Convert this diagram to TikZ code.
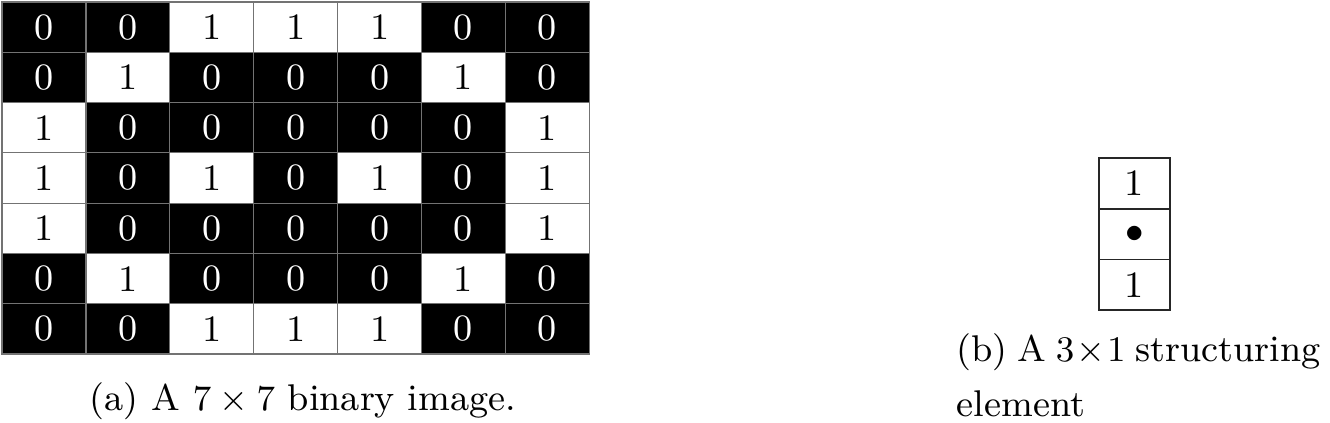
\documentclass[tikz,border=0pt]{standalone}
\usetikzlibrary{positioning}
\tikzset{
  px/.style={x=0.25pt,y=-0.25pt},
  bit/.style={minimum width=21pt,minimum height=12.57pt,inner sep=0pt,outer sep=0pt,
    draw=black!55,line width=0.3pt},
  bit0/.style={bit,fill=black,text=white},
  bit1/.style={bit,fill=white,text=black},
  sebox/.style={minimum width=17.75pt,minimum height=12.65pt,inner sep=0pt,outer sep=0pt,
    draw=black!85,line width=0.4pt}
}
\begin{document}
\begin{tikzpicture}[px,font=\fontsize{9.3}{13.75}\selectfont]
  \useasboundingbox (0,0) rectangle (1330,422);
  % the 7x7 image
  \foreach \line [count=\r from 0] in {{0,0,1,1,1,0,0},{0,1,0,0,0,1,0},{1,0,0,0,0,0,1},
      {1,0,1,0,1,0,1},{1,0,0,0,0,0,1},{0,1,0,0,0,1,0},{0,0,1,1,1,0,0}}
    \foreach \v [count=\c from 0] in \line
      \node[bit\v] (p\r\c) at ({44+83.9*\c},{27.1+50.3*\r}) {\v};
  \node[anchor=base] (capa) at (303,410) {(a) A $7\times7$ binary image.};
  % structuring element
  \node[sebox] (s0) at (1134.5,183.5) {1};
  \node[sebox,below=0pt of s0] (s1) {$\bullet$};
  \node[sebox,below=0pt of s1] (s2) {1};
  \node[anchor=base west,align=left,inner sep=0pt] (capb) at (956,416)
    {\spaceskip=0.26em (b) A {\medmuskip=1mu$3\times1$} structuring\\element};
\end{tikzpicture}
\end{document}
